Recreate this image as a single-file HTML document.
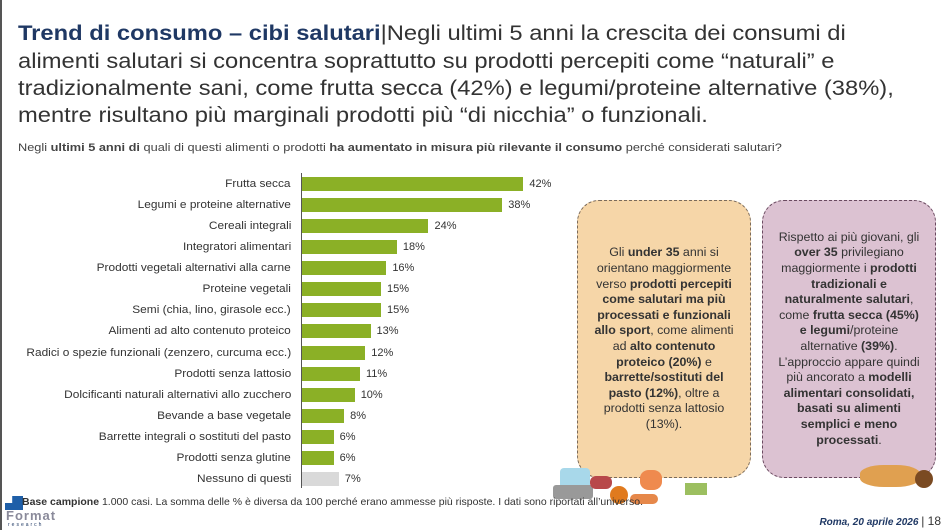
<!DOCTYPE html>
<html><head><meta charset="utf-8"><style>
*{margin:0;padding:0;box-sizing:border-box}
body{width:950px;height:530px;overflow:hidden;background:#fff;font-family:"Liberation Sans",sans-serif;color:#333;position:relative}
.t{position:absolute;white-space:nowrap;left:18px;font-size:21px;color:#333;transform:scaleX(1.13);transform-origin:left top}
.t b{color:#1f3864}
.q{position:absolute;left:18px;top:142px;font-size:11px;white-space:nowrap;color:#444;transform:scaleX(1.16);transform-origin:left top}
.lab{position:absolute;right:659px;font-size:11px;white-space:nowrap;color:#333;text-align:right;line-height:14px;transform:scaleX(1.08);transform-origin:right top}
.bar{position:absolute;left:302px;height:14px;background:#8bb026}
.val{position:absolute;font-size:11px;color:#333;line-height:14px}
.box{position:absolute;top:200px;width:174px;height:278px;border:1.5px dashed #7a6a5a;border-radius:22px;display:flex;align-items:center;justify-content:center;text-align:center;font-size:12.4px;line-height:15.6px;color:#333;padding:0 12px}
</style></head><body>
<div style="position:absolute;left:0;top:0;width:2px;height:530px;background:#555"></div>
<div class="t" style="top:22px"><b>Trend di consumo – cibi salutari</b>|Negli ultimi 5 anni la crescita dei consumi di</div>
<div class="t" style="top:50px">alimenti salutari si concentra soprattutto su prodotti percepiti come “naturali” e</div>
<div class="t" style="top:77px">tradizionalmente sani, come frutta secca (42%) e legumi/proteine alternative (38%),</div>
<div class="t" style="top:104px">mentre risultano più marginali prodotti più “di nicchia” o funzionali.</div>
<div class="q">Negli <b>ultimi 5 anni di</b> quali di questi alimenti o prodotti <b>ha aumentato in misura più rilevante il consumo</b> perché considerati salutari?</div>
<div style="position:absolute;left:301px;top:173px;width:1px;height:315px;background:#555"></div>
<div id="c"></div>
<div class="box" style="left:577px;background:#f6d6a8"><div>Gli <b>under 35</b> anni si orientano maggiormente verso <b>prodotti percepiti come salutari ma più processati e funzionali allo sport</b>, come alimenti ad <b>alto contenuto proteico (20%)</b> e <b>barrette/sostituti del pasto (12%)</b>, oltre a prodotti senza lattosio (13%).</div></div>
<div class="box" style="left:762px;background:#dcc2d2;border-color:#6a4a60"><div>Rispetto ai più giovani, gli <b>over 35</b> privilegiano maggiormente i <b>prodotti tradizionali e naturalmente salutari</b>, come <b>frutta secca (45%) e legumi</b>/proteine alternative <b>(39%)</b>. L’approccio appare quindi più ancorato a <b>modelli alimentari consolidati, basati su alimenti semplici e meno processati</b>.</div></div>
<div style="position:absolute;left:560px;top:468px;width:30px;height:22px;background:#a8d8ea;border-radius:4px"></div>
<div style="position:absolute;left:553px;top:485px;width:40px;height:14px;background:#999;border-radius:3px"></div>
<div style="position:absolute;left:590px;top:476px;width:22px;height:13px;background:#b8484a;border-radius:6px"></div>
<div style="position:absolute;left:610px;top:486px;width:18px;height:18px;background:#e07a1e;border-radius:50%"></div>
<div style="position:absolute;left:640px;top:470px;width:22px;height:20px;background:#ef8a4e;border-radius:40%"></div>
<div style="position:absolute;left:630px;top:494px;width:28px;height:10px;background:#e6884a;border-radius:5px"></div>
<div style="position:absolute;left:685px;top:483px;width:22px;height:12px;background:#9cbf60"></div>
<div style="position:absolute;left:860px;top:465px;width:60px;height:22px;background:#e0a050;border-radius:40%"></div>
<div style="position:absolute;left:915px;top:470px;width:18px;height:18px;background:#7a4a22;border-radius:50%"></div>
<div style="position:absolute;left:5px;top:496px;width:18px;height:14px;background:#1f5fa8;clip-path:polygon(40% 0,100% 0,100% 100%,0 100%,0 50%,40% 50%)"></div>
<div style="position:absolute;left:22px;top:496px;font-size:10.5px;white-space:nowrap;color:#333"><b>Base campione</b> 1.000 casi. La somma delle % è diversa da 100 perché erano ammesse più risposte. I dati sono riportati all’universo.</div>
<div style="position:absolute;left:6px;top:508px;font-size:13px;font-weight:bold;color:#8a8a9a;letter-spacing:1px">Format</div>
<div style="position:absolute;left:8px;top:522px;font-size:5px;color:#1f3864;letter-spacing:2px">research</div>
<div style="position:absolute;right:9px;top:514px;font-size:10px;color:#1f3864;font-style:italic;font-weight:bold">Roma, 20 aprile 2026 <span style="font-style:normal;font-weight:normal;color:#333;font-size:12px">| 18</span></div>
<script>
var d=[["Frutta secca",42],["Legumi e proteine alternative",38],["Cereali integrali",24],["Integratori alimentari",18],["Prodotti vegetali alternativi alla carne",16],["Proteine vegetali",15],["Semi (chia, lino, girasole ecc.)",15],["Alimenti ad alto contenuto proteico",13],["Radici o spezie funzionali (zenzero, curcuma ecc.)",12],["Prodotti senza lattosio",11],["Dolcificanti naturali alternativi allo zucchero",10],["Bevande a base vegetale",8],["Barrette integrali o sostituti del pasto",6],["Prodotti senza glutine",6],["Nessuno di questi",7]];
var h="";d.forEach(function(r,i){var y=184+i*21.07-7;var w=r[1]*5.27;
h+='<div class="lab" style="top:'+y+'px">'+r[0]+'</div><div class="bar" style="top:'+y+'px;width:'+w+'px;'+(i==14?'background:#d9d9d9':'')+'"></div><div class="val" style="top:'+y+'px;left:'+(302+w+6)+'px">'+r[1]+'%</div>';});
document.getElementById("c").innerHTML=h;
</script>
</body></html>
